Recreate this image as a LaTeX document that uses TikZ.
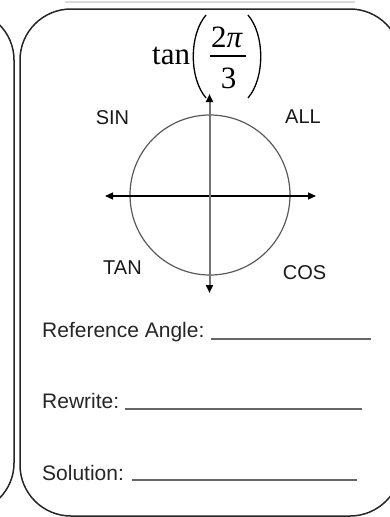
\documentclass[tikz,border=0pt]{standalone}
\usepackage{fontspec}
\setmainfont{Liberation Sans}
\newfontfamily\titlefont{Liberation Serif}
\usetikzlibrary{arrows.meta}
\begin{document}
\begin{tikzpicture}[x=1pt,y=-1pt,
  boxline/.style={line width=1.5pt, draw=black!85},
  quadlabel/.style={font=\fontsize{20}{23}\selectfont, text=black!90, inner sep=0pt},
  formlabel/.style={font=\fontsize{21}{25}\selectfont, text=black!85, anchor=base west, inner sep=0pt},
  titletext/.style={font=\titlefont\fontsize{31}{36}\selectfont, inner sep=0pt, anchor=base},
  paren/.style={line width=1.3pt, draw=black},
  blank/.style={line width=1.1pt, draw=black!60},
  axistip/.style={-{Triangle[length=8pt,width=7pt,color=black]}}
]
\useasboundingbox (0,0) rectangle (390,517);
% faint top line
\draw[line width=2pt, draw=black!15] (65,1.5) -- (355,1.5);
% left card (edge only visible)
\draw[boxline, rounded corners=50pt] (-60,10) -- (14,10) -- (14,513) -- (-60,513);
% right card
\draw[boxline, rounded corners=51pt] (20,9) rectangle (401,516);
% title tan(2pi/3)
\node[titletext, anchor=base west] (tanword) at (152,64) {tan};
\node[titletext] (num) at (227,47) {2\textit{π}};
\node[titletext] (den) at (228.5,88) {3};
\coordinate (barl) at (210,56);
\coordinate (barr) at (246,56);
\draw[line width=1.5pt] (barl) -- (barr);
\coordinate (lpt) at (206,15);
\coordinate (lpb) at (206,98);
\coordinate (rpt) at (248,15);
\coordinate (rpb) at (248,98);
\draw[paren] (lpt) .. controls (189,35) and (189,78) .. (lpb);
\draw[paren] (rpt) .. controls (265,35) and (265,78) .. (rpb);
% unit circle
\coordinate (O) at (210,195);
\draw[line width=1.2pt, draw=black!65] (O) circle[radius=80];
\coordinate (xl) at (105,196);
\coordinate (xr) at (316,196);
\coordinate (yt) at (209.5,94);
\coordinate (yb) at (209.5,293);
\draw[line width=1.2pt, black, axistip] (O |- xl) -- (xr);
\draw[line width=1.2pt, black, axistip] (O |- xr) -- (xl);
\draw[line width=2pt, black!55, axistip] (yb |- O) -- (yt);
\draw[line width=2pt, black!55, axistip] (yt |- O) -- (yb);
\node[quadlabel] (sin) at (112.5,118) {SIN};
\node[quadlabel] (all) at (303,117) {ALL};
\node[quadlabel] (tan) at (122.5,268) {TAN};
\node[quadlabel] (cos) at (304.5,272.5) {COS};
% form lines
\node[formlabel] (ref) at (42,337) {Reference Angle:};
\node[formlabel] (rew) at (42,408) {Rewrite:};
\node[formlabel] (sol) at (42,480) {Solution:};
\draw[blank] (211,339) -- (371,339);
\draw[blank] (125,409) -- (362,409);
\draw[blank] (132,480) -- (357,480);
\end{tikzpicture}
\end{document}
